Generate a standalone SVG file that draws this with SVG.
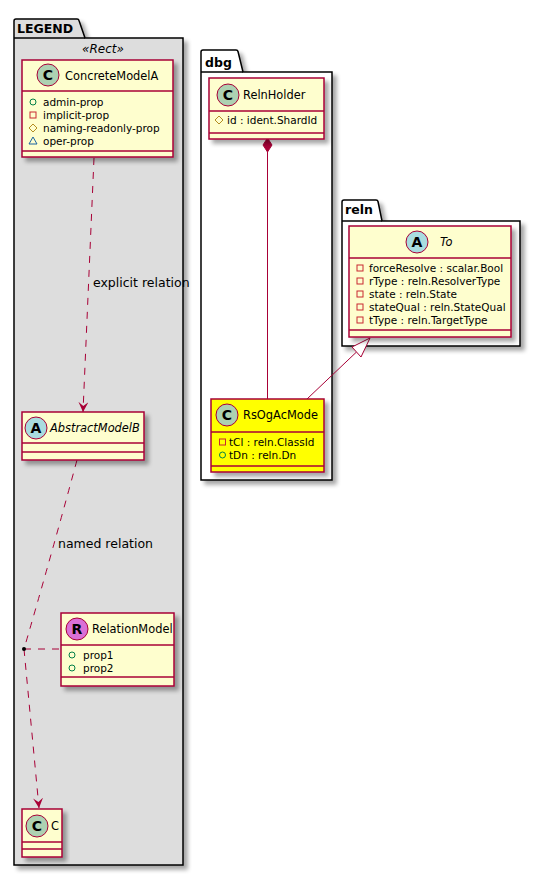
<svg xmlns="http://www.w3.org/2000/svg" width="540" height="876" viewBox="0 0 540 876">
<defs>
<filter id="sh" x="-10%" y="-10%" width="130%" height="130%">
<feGaussianBlur in="SourceAlpha" stdDeviation="2"/>
<feOffset dx="4" dy="4"/>
<feComponentTransfer><feFuncA type="linear" slope="0.35"/></feComponentTransfer>
<feMerge><feMergeNode/><feMergeNode in="SourceGraphic"/></feMerge>
</filter>
<marker id="vee" viewBox="0 0 10 10" refX="10" refY="5" markerWidth="10" markerHeight="10" orient="auto" markerUnits="userSpaceOnUse">
<path d="M0,0 L10,5 L0,10 L4,5 Z" fill="#A80036"/>
</marker>
</defs>
<style>
.pkg{stroke:#000;stroke-width:1.5}
.tab{font-family:"DejaVu Sans",sans-serif;font-weight:bold;font-size:12.5px;fill:#000}
.cls{fill:#FEFECE;stroke:#A80036;stroke-width:1.5}
.hl{fill:#FFFF00}
.dv{stroke:#A80036;stroke-width:1.5}
.cc{stroke:#A80036;stroke-width:1}
.ltr{font-family:"DejaVu Sans",sans-serif;font-weight:bold;font-size:14px;text-anchor:middle;fill:#000}
.nm{font-family:"DejaVu Sans",sans-serif;font-size:11.4px;fill:#000}
.it{font-style:italic}
.at{font-family:"DejaVu Sans",sans-serif;font-size:10.5px;fill:#000}
.pub{fill:none;stroke:#038048}
.pri{fill:none;stroke:#C82930}
.pro{fill:none;stroke:#B38D22}
.pkgv{fill:none;stroke:#1963A0}
.lbl{font-family:"DejaVu Sans",sans-serif;font-size:12.5px;fill:#000}
.dash{fill:none;stroke:#A80036;stroke-width:1;stroke-dasharray:7,7}
.solid{fill:none;stroke:#A80036;stroke-width:1}
</style>
<rect width="540" height="876" fill="#FFFFFF"/>

<g id="pkg-legend">
<path class="pkg" filter="url(#sh)" fill="#DDDDDD" d="M14,21 A2,2 0 0 1 16,19 L77,19 A2,2 0 0 1 79,20.5 L85,38 L183,38 L183,865 L14,865 Z"/>
<line class="pkg" x1="14" y1="38" x2="85" y2="38"/>
<text class="tab" x="17" y="33">LEGEND</text>
<text x="103" y="53" text-anchor="middle" font-family="DejaVu Sans, sans-serif" font-size="12px" font-style="italic">«Rect»</text>
</g>

<g id="pkg-dbg">
<path class="pkg" filter="url(#sh)" fill="#FFFFFF" d="M201,52 A2,2 0 0 1 203,50 L236,50 A2,2 0 0 1 238,51.5 L243,72 L332,72 L332,480 L201,480 Z"/>
<line class="pkg" x1="201" y1="72" x2="243" y2="72"/>
<text class="tab" x="205" y="67">dbg</text>
</g>

<g id="pkg-reln">
<path class="pkg" filter="url(#sh)" fill="#FFFFFF" d="M342,202 A2,2 0 0 1 344,200 L376,200 A2,2 0 0 1 378,201.5 L382,221 L520,221 L520,346 L342,346 Z"/>
<line class="pkg" x1="342" y1="221" x2="382" y2="221"/>
<text class="tab" x="345" y="214">reln</text>
</g>

<g id="connectors">
<path class="dash" d="M94,158 L83,412" marker-end="url(#vee)"/>
<text class="lbl" x="93" y="287">explicit relation</text>
<path class="dash" d="M77,460 Q50,560 24,649"/>
<text class="lbl" x="58" y="548">named relation</text>
<path class="dash" d="M24,649 L39,808" marker-end="url(#vee)"/>
<path class="dash" d="M24,649 L61,649"/>
<circle cx="24" cy="649" r="2" fill="#000"/>
<polygon points="267.5,138 272,145 267.5,152 263,145" fill="#A80036" stroke="#A80036" stroke-width="1"/>
<path class="solid" d="M267.5,152 L267.5,399"/>
<path class="solid" d="M307,399 L356.5,352"/>
<polygon points="370,338 352,347 361,357" fill="#FFFFFF" stroke="#A80036" stroke-width="1"/>
</g>

<g id="ConcreteModelA">
<rect class="cls" filter="url(#sh)" x="22" y="60" width="151" height="97"/>
<line class="dv" x1="22" y1="91" x2="173" y2="91"/>
<line class="dv" x1="22" y1="151" x2="173" y2="151"/>
<circle class="cc" cx="48" cy="75" r="11" fill="#ADD1B2"/>
<text class="ltr" x="48" y="80">C</text>
<text class="nm" x="65" y="80">ConcreteModelA</text>
<circle class="pub" cx="33" cy="102" r="3"/>
<text class="at" x="43" y="106">admin-prop</text>
<rect class="pri" x="30" y="112" width="6" height="6"/>
<text class="at" x="43" y="119">implicit-prop</text>
<polygon class="pro" points="33,124 37,128 33,132 29,128"/>
<text class="at" x="43" y="132">naming-readonly-prop</text>
<polygon class="pkgv" points="33,137 37,144 29,144"/>
<text class="at" x="43" y="145">oper-prop</text>
</g>

<g id="AbstractModelB">
<rect class="cls" filter="url(#sh)" x="22" y="412" width="122" height="48"/>
<line class="dv" x1="22" y1="443" x2="144" y2="443"/>
<line class="dv" x1="22" y1="452" x2="144" y2="452"/>
<circle class="cc" cx="36" cy="428" r="11" fill="#A9DCDF"/>
<text class="ltr" x="36" y="433">A</text>
<text class="nm it" x="50" y="432">AbstractModelB</text>
</g>

<g id="RelationModel">
<rect class="cls" filter="url(#sh)" x="61" y="613" width="113" height="73"/>
<line class="dv" x1="61" y1="645" x2="174" y2="645"/>
<line class="dv" x1="61" y1="677" x2="174" y2="677"/>
<circle class="cc" cx="77" cy="629" r="11" fill="#DA70D6"/>
<text class="ltr" x="77" y="634">R</text>
<text class="nm" x="92" y="633">RelationModel</text>
<circle class="pub" cx="72" cy="655" r="3"/>
<text class="at" x="83" y="659">prop1</text>
<circle class="pub" cx="72" cy="668" r="3"/>
<text class="at" x="83" y="672">prop2</text>
</g>

<g id="C">
<rect class="cls" filter="url(#sh)" x="22" y="809" width="40" height="48"/>
<line class="dv" x1="22" y1="842" x2="62" y2="842"/>
<line class="dv" x1="22" y1="849" x2="62" y2="849"/>
<circle class="cc" cx="37" cy="826" r="11" fill="#ADD1B2"/>
<text class="ltr" x="37" y="831">C</text>
<text class="nm" x="51" y="830">C</text>
</g>

<g id="RelnHolder">
<rect class="cls" filter="url(#sh)" x="209" y="78" width="115" height="61"/>
<line class="dv" x1="209" y1="111" x2="324" y2="111"/>
<line class="dv" x1="209" y1="133" x2="324" y2="133"/>
<circle class="cc" cx="228" cy="95" r="11" fill="#ADD1B2"/>
<text class="ltr" x="228" y="100">C</text>
<text class="nm" x="243" y="99">RelnHolder</text>
<polygon class="pro" points="219,116 223,120 219,124 215,120"/>
<text class="at" x="227" y="124">id : ident.ShardId</text>
</g>

<g id="RsOgAcMode">
<rect class="cls hl" filter="url(#sh)" x="211" y="399" width="113" height="73"/>
<line class="dv" x1="211" y1="432" x2="324" y2="432"/>
<line class="dv" x1="211" y1="466" x2="324" y2="466"/>
<circle class="cc" cx="227" cy="415" r="11" fill="#ADD1B2"/>
<text class="ltr" x="227" y="420">C</text>
<text class="nm" x="243" y="419">RsOgAcMode</text>
<rect class="pri" x="219.5" y="439" width="6" height="6"/>
<text class="at" x="229" y="446">tCl : reln.ClassId</text>
<circle class="pub" cx="222.5" cy="455" r="3"/>
<text class="at" x="229" y="459">tDn : reln.Dn</text>
</g>

<g id="To">
<rect class="cls" filter="url(#sh)" x="349" y="226" width="162" height="111"/>
<line class="dv" x1="349" y1="258" x2="511" y2="258"/>
<line class="dv" x1="349" y1="330" x2="511" y2="330"/>
<circle class="cc" cx="417" cy="242" r="11" fill="#A9DCDF"/>
<text class="ltr" x="417" y="247">A</text>
<text class="nm it" x="440" y="246">To</text>
<rect class="pri" x="357" y="265" width="6" height="6"/>
<text class="at" x="369" y="272">forceResolve : scalar.Bool</text>
<rect class="pri" x="357" y="278" width="6" height="6"/>
<text class="at" x="369" y="285">rType : reln.ResolverType</text>
<rect class="pri" x="357" y="291" width="6" height="6"/>
<text class="at" x="369" y="298">state : reln.State</text>
<rect class="pri" x="357" y="304" width="6" height="6"/>
<text class="at" x="369" y="311">stateQual : reln.StateQual</text>
<rect class="pri" x="357" y="317" width="6" height="6"/>
<text class="at" x="369" y="324">tType : reln.TargetType</text>
</g>
</svg>
